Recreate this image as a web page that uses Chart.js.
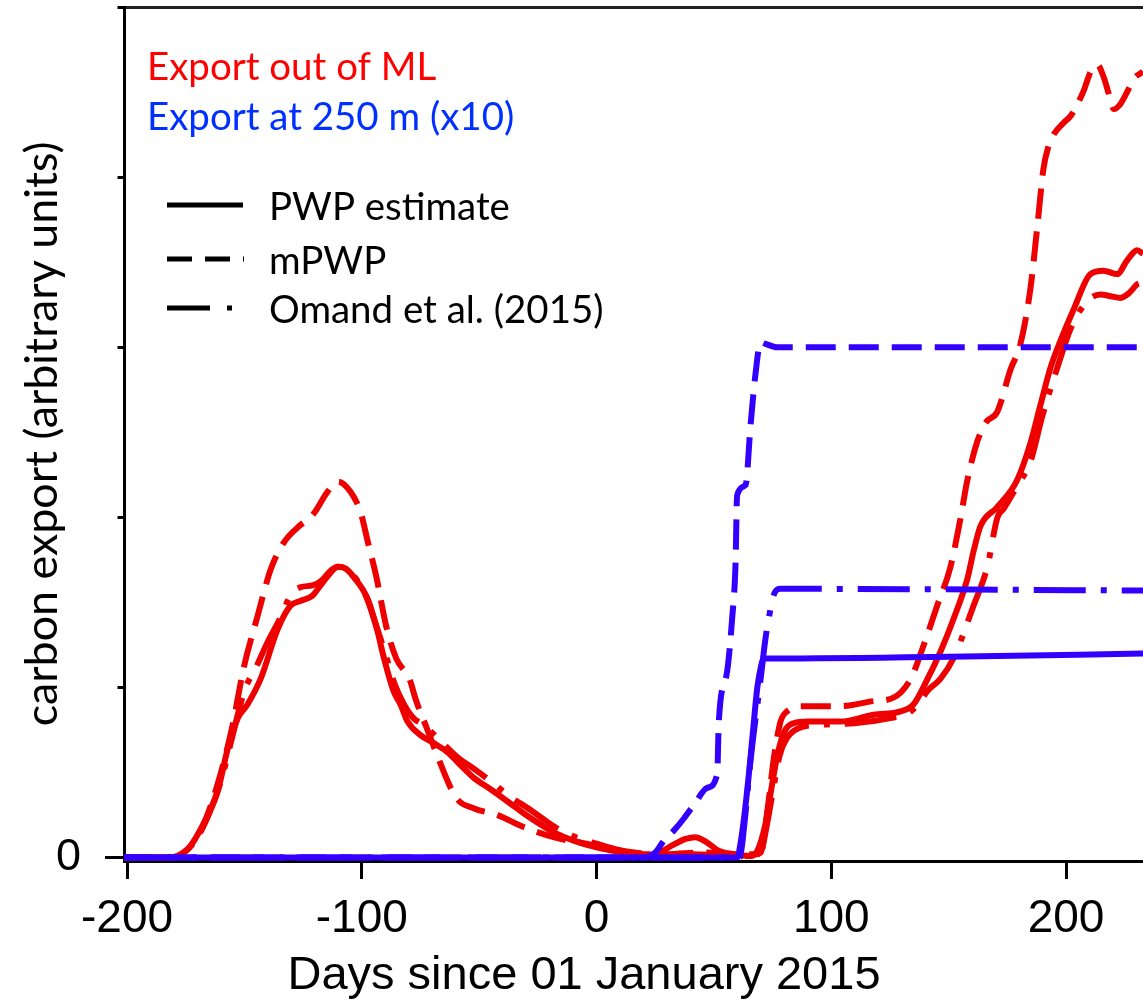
<!DOCTYPE html>
<html><head><meta charset="utf-8">
<script src="https://cdn.jsdelivr.net/npm/chart.js@4.4.1/dist/chart.umd.min.js"></script>
<style>html,body{margin:0;padding:0;background:#fff;overflow:hidden}#wrap{width:1143px;height:1000px}</style>
</head><body><div id="wrap"><canvas id="c" width="1143" height="1000"></canvas></div>
<script>
// ---- axes / labels ----
const xMin = -201.3, xMax = 232.8, yMin = -0.02, yMax = 5;
const xTickValues = [-200, -100, 0, 100, 200];
const yTickValues = [0, 1, 2, 3, 4, 5];
const xTitle = 'Days since 01 January 2015';
const yTitle = 'carbon export (arbitrary units)';
const groupLabels = ['Export out of ML', 'Export at 250 m (x10)'];
const methodLabels = ['PWP estimate', 'mPWP', 'Omand et al. (2015)'];

// ---- Export out of ML (red) ----
const mlPwpDays = [-201.3,-182,-178,-174,-167.4,-161.4,-157.1,-152.8,-148.7,-143.1,-135.9,-130.4,-126,-121,-117.6,-113,-110.3,-107,-103.5,-97.5,-93.3,-90.7,-86.5,-83.5,-80.5,-75,-69,-63.5,-57,-52.4,-45,-37.9,-30,-23.9,-17,-9.8,0,7.2,15,21.7,27,32,38,42,47,52,58,66,68.5,72,74.3,77,80,84,90,104,118,129.5,135,141,146.5,152,158,160.6,163.6,170.7,179.2,184.9,189.1,193.4,197.7,203.2,210.4,216,221.8,226,230.3,232.8];
const mlPwpValues = [0,0,0.01,0.05,0.2,0.39,0.64,0.82,0.9,1.05,1.34,1.48,1.51,1.54,1.6,1.68,1.71,1.7,1.65,1.52,1.33,1.18,0.98,0.9,0.8,0.72,0.67,0.62,0.53,0.47,0.4,0.33,0.25,0.195,0.14,0.1,0.06,0.04,0.02,0.015,0.03,0.07,0.11,0.12,0.09,0.04,0.02,0.01,0.04,0.2,0.39,0.6,0.74,0.79,0.8,0.8,0.84,0.86,0.9,1.05,1.21,1.4,1.64,1.8,1.95,2.06,2.22,2.44,2.66,2.88,3.04,3.22,3.43,3.45,3.43,3.51,3.57,3.55];

const mlMpwpDays = [-201.3,-182,-176,-170,-165,-160,-155,-150.4,-144.4,-138.9,-133.3,-127.4,-120.6,-114.6,-110,-104.8,-100.5,-97.5,-93.8,-89.6,-85.3,-79.7,-76.8,-72,-67,-59.7,-52.4,-42.2,-31.1,-18.3,-3.8,10.2,20,30,45,60,68,70,73,75.6,78.4,81.2,88.3,104,118,126.5,133.8,139.4,145.1,150.8,155,158,162.3,166,170.7,176.4,180.6,184.9,187.7,190.4,192.5,194.7,199,202,204.9,207.6,210.5,213.3,216,218,220.4,223.2,226,229,232.8];
const mlMpwpValues = [0,0,0.03,0.12,0.28,0.5,0.78,1.11,1.42,1.69,1.85,1.94,2.02,2.15,2.21,2.15,2.03,1.86,1.65,1.36,1.17,1.05,0.92,0.75,0.57,0.35,0.29,0.25,0.18,0.12,0.08,0.04,0.02,0.02,0.03,0.02,0.02,0.03,0.3,0.59,0.8,0.86,0.89,0.89,0.92,0.94,1.05,1.25,1.48,1.71,1.99,2.22,2.45,2.56,2.62,2.87,3.02,3.35,3.7,4.05,4.18,4.25,4.32,4.36,4.43,4.51,4.62,4.66,4.59,4.5,4.4,4.43,4.5,4.58,4.62];

const mlOmandDays = [-201.3,-182,-176,-170,-165,-160,-155,-150,-145,-140,-135,-130,-126,-121,-117,-113,-110,-106,-102,-98,-94,-90,-86,-82,-78,-73.7,-66,-59.2,-52,-45.2,-37,-28.1,-21,-15.3,-7,0.4,8,16,25,40,60,67,70,72,75,78,81,86,95,110,125,133,138,141,146.5,152,160.6,166.5,170.8,173.4,179,184.9,190,196.3,202,209,214.7,219,223.2,227,230.3,232.8];
const mlOmandValues = [0,0,0.03,0.12,0.26,0.45,0.72,0.98,1.12,1.27,1.4,1.55,1.59,1.6,1.63,1.69,1.71,1.69,1.63,1.53,1.37,1.2,1.02,0.9,0.82,0.78,0.68,0.59,0.52,0.45,0.36,0.28,0.21,0.16,0.11,0.08,0.05,0.03,0.02,0.02,0.01,0.01,0.03,0.15,0.38,0.6,0.7,0.76,0.78,0.79,0.82,0.85,0.92,0.98,1.05,1.17,1.48,1.71,2.0,2.05,2.18,2.33,2.6,2.88,3.11,3.27,3.31,3.3,3.29,3.32,3.37,3.38];

// ---- Export at 250 m, x10 (blue) ----
const deepPwpDays = [-201.3,60,61.3,63,64.9,66.5,68.5,70,71.3,74,150,232.8];
const deepPwpValues = [0,0,0.08,0.25,0.49,0.72,1.0,1.12,1.17,1.17,1.18,1.2];

const deepMpwpDays = [-201.3,20,25,28.7,33,37.2,42,47.1,51.4,52.1,55.7,57.8,59.2,59.9,63.5,65.6,67.7,69.9,72,77,232.8];
const deepMpwpValues = [0,0,0.03,0.10,0.16,0.23,0.32,0.41,0.49,0.80,1.10,1.41,1.72,2.13,2.19,2.54,2.84,3.03,3.02,3.0,3.0];

const deepOmandDays = [-201.3,61,63,65.6,69.9,72,73.3,75.4,78.4,232.8];
const deepOmandValues = [0,0,0.2,0.57,1.05,1.29,1.40,1.54,1.58,1.57];

// ---- styling ----
const RED = '#ee0000', BLUE = '#3300ff', RED_TEXT = '#ff0000', BLUE_TEXT = '#0030ff';
const DASH = [30, 13], DASHDOT = [52, 15, 6, 15];
const HUMANIST = 'Lato';
const ARIAL = '"Liberation Sans", Arial, sans-serif';

function fitFont(text, family, target) {
  const c = document.createElement('canvas').getContext('2d');
  c.font = '100px ' + family;
  return 100 * target / c.measureText(text).width;
}
const legendSize = (fitFont(groupLabels[0], HUMANIST, 291) + fitFont(methodLabels[2], HUMANIST, 338) + fitFont(methodLabels[0], HUMANIST, 237)) / 3;
const yTitleSize = fitFont(yTitle, HUMANIST, 585);

function series(label, days, values, color, dash) {
  return {
    label, data: days.map((d, i) => ({x: d, y: values[i]})),
    borderColor: color, backgroundColor: color, borderWidth: 6, borderDash: dash,
    borderCapStyle: 'butt', borderJoinStyle: 'round',
    pointRadius: 0, fill: false, cubicInterpolationMode: 'monotone'
  };
}

const insideLegend = {
  id: 'insideLegend',
  afterDraw(chart) {
    const {ctx, chartArea: a} = chart;
    ctx.save();
    ctx.font = legendSize + 'px ' + HUMANIST;
    ctx.textAlign = 'left';
    ctx.textBaseline = 'alphabetic';
    ctx.fillStyle = RED_TEXT;
    ctx.fillText(groupLabels[0], a.left + 23, a.top + 73);
    ctx.fillStyle = BLUE_TEXT;
    ctx.fillText(groupLabels[1], a.left + 23, a.top + 123);
    const rows = [
      {dash: [], y: 198, len: 76},
      {dash: [25, 13], y: 252, len: 77},
      {dash: [43, 17, 5, 100], y: 301, len: 65}
    ];
    rows.forEach((r, i) => {
      ctx.beginPath();
      ctx.setLineDash(r.dash);
      ctx.lineWidth = 5;
      ctx.lineCap = 'butt';
      ctx.strokeStyle = '#000';
      ctx.moveTo(a.left + 43, a.top + r.y);
      ctx.lineTo(a.left + 43 + r.len, a.top + r.y);
      ctx.stroke();
      ctx.setLineDash([]);
      ctx.fillStyle = '#000';
      ctx.fillText(methodLabels[i], a.left + 145, a.top + r.y + 15);
    });
    ctx.restore();
  }
};

new Chart(document.getElementById('c'), {
  type: 'line',
  data: {
    datasets: [
      series(methodLabels[1] + ' 250 m', deepMpwpDays, deepMpwpValues, BLUE, DASH),
      series(methodLabels[2] + ' 250 m', deepOmandDays, deepOmandValues, BLUE, DASHDOT),
      series(methodLabels[0] + ' 250 m', deepPwpDays, deepPwpValues, BLUE, []),
      series(methodLabels[1] + ' ML', mlMpwpDays, mlMpwpValues, RED, DASH),
      series(methodLabels[2] + ' ML', mlOmandDays, mlOmandValues, RED, DASHDOT),
      series(methodLabels[0] + ' ML', mlPwpDays, mlPwpValues, RED, [])
    ]
  },
  options: {
    responsive: false, animation: false, devicePixelRatio: 1,
    layout: {padding: {left: 25, right: 0, top: 7, bottom: 0}},
    scales: {
      x: {
        type: 'linear', position: 'bottom', min: xMin, max: xMax,
        afterBuildTicks: s => { s.ticks = xTickValues.map(v => ({value: v})); },
        afterFit: s => { s.height = 91.5; s.paddingRight = 0; },
        grid: {drawOnChartArea: false, drawTicks: true, tickLength: 18, tickWidth: 3, tickColor: '#000'},
        border: {display: true, color: '#000', width: 3},
        ticks: {color: '#000', font: {family: ARIAL, size: 46}, padding: 13, maxRotation: 0, autoSkip: false}
      },
      xTop: {
        type: 'linear', position: 'top', min: xMin, max: xMax,
        grid: {display: false, drawTicks: false},
        border: {display: true, color: '#222', width: 3},
        ticks: {display: false},
        afterFit: s => { s.height = 0; s.paddingLeft = 0; s.paddingRight = 0; }
      },
      y: {
        type: 'linear', position: 'left', min: yMin, max: yMax,
        afterBuildTicks: s => { s.ticks = yTickValues.map(v => ({value: v})); },
        afterFit: s => { s.width = 99; s.paddingTop = 0; s.paddingBottom = 0; },
        grid: {
          drawOnChartArea: false, drawTicks: true, tickLength: 19, tickWidth: 3, tickColor: '#000',
          tickBorderDash: c => (c.tick && c.tick.value === 0) ? [] : [0, 12.5, 6, 100]
        },
        border: {display: true, color: '#000', width: 3},
        ticks: {color: '#000', font: {family: ARIAL, size: 45}, padding: 24, callback: v => v === 0 ? '0' : ''},
        title: {display: true, text: yTitle, color: '#000', font: {family: HUMANIST, size: yTitleSize, lineHeight: 0.8}, padding: {top: 0, bottom: 0}}
      }
    },
    plugins: {
      legend: {display: false},
      tooltip: {enabled: false},
      title: {
        display: true, position: 'bottom', text: xTitle, color: '#000', align: 'center', fullSize: true,
        font: {family: ARIAL, size: 47, weight: 'normal', lineHeight: 1},
        padding: {top: 0, bottom: 0.5}
      }
    }
  },
  plugins: [insideLegend]
});
</script>
</body></html>
